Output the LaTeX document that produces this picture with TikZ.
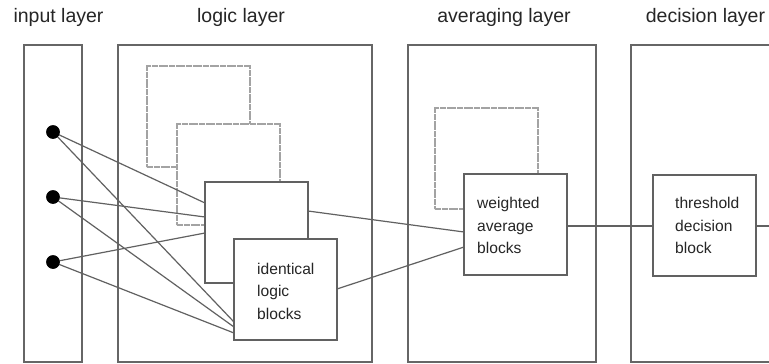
\documentclass[tikz,border=0pt]{standalone}
\usepackage{fontspec}
\setmainfont{Liberation Sans}
\usetikzlibrary{calc}
\begin{document}
\begin{tikzpicture}[x=1pt,y=-1pt,
  layerbox/.style={draw=black!60,line width=1.5pt,fill=white,inner sep=0pt,outer sep=0pt,
    anchor=north west,minimum height=317pt},
  blockbox/.style={draw=black!62,line width=1.4pt,fill=white,inner sep=0pt,outer sep=0pt,
    anchor=north west,minimum width=103pt,minimum height=101pt},
  ghostbox/.style={blockbox,draw=black!36,line width=1.6pt,dash pattern=on 3pt off 0.4pt},
  dotnode/.style={circle,fill=black,inner sep=0pt,outer sep=0pt,minimum size=13.5pt},
  link/.style={draw=black!62,line width=1.2pt},
  title/.style={anchor=base,inner sep=0pt,text=black!85,font=\fontsize{19.5}{22}\selectfont},
  blocktext/.style={anchor=base west,inner sep=0pt,text=black!85,font=\fontsize{15.6}{20}\selectfont}
]
\clip (0,0) rectangle (769,364);
\fill[white] (0,0) rectangle (769,364);

% layer titles
\node[title] (tin)  at (58.5,22.5) {input layer};
\node[title] (tlog) at (241,22.5)  {logic layer};
\node[title] (tavg) at (504,22.5)  {averaging layer};
\node[title] (tdec) at (705.5,22.5) {decision layer};

% layer frames
\node[layerbox,minimum width=58pt]  (inputL) at (24,45)  {};
\node[layerbox,minimum width=254pt] (logicL) at (118,45) {};
\node[layerbox,minimum width=188pt] (avgL)   at (408,45) {};
\node[layerbox,minimum width=180pt] (decL)   at (631,45) {};

% stacked logic blocks, back to front
\node[ghostbox] (lb1) at (147,66)  {};
\node[ghostbox] (lb2) at (177,124) {};
\node[blockbox] (lb3) at (205,182) {};
\node[blockbox] (lb4) at (234,239) {};

% averaging blocks
\node[ghostbox] (ab1) at (435,108) {};
\node[blockbox] (ab2) at (464,174) {};

% decision block
\node[blockbox] (db) at (653,175) {};

% block captions
\node[blocktext] (c1a) at (257,274) {identical};
\node[blocktext] (c1b) at (257,296.5) {logic};
\node[blocktext] (c1c) at (257,319) {blocks};
\node[blocktext] (c2a) at (477,208.5) {weighted};
\node[blocktext] (c2b) at (477,231) {average};
\node[blocktext] (c2c) at (477,253.5) {blocks};
\node[blocktext] (c3a) at (675,208.5) {threshold};
\node[blocktext] (c3b) at (675,231) {decision};
\node[blocktext] (c3c) at (675,253.5) {block};

% input nodes
\node[dotnode] (d1) at (53,132) {};
\node[dotnode] (d2) at (53,197) {};
\node[dotnode] (d3) at (53,262) {};
\coordinate (exit) at (769,226);

% connections from the inputs
\draw[link] (d1.center) -- ([yshift=-21pt]lb3.north west);
\draw[link] (d1.center) -- ([yshift=-83pt]lb4.north west);
\draw[link] (d2.center) -- ([yshift=-35pt]lb3.north west);
\draw[link] (d2.center) -- ([yshift=-88pt]lb4.north west);
\draw[link] (d3.center) -- ([yshift=-51pt]lb3.north west);
\draw[link] (d3.center) -- ([yshift=-94pt]lb4.north west);

% logic to averaging, averaging to decision
\draw[link] ([yshift=-29pt]lb3.north east) -- ([yshift=-58pt]ab2.north west);
\draw[link] ([yshift=-50pt]lb4.north east) -- ([yshift=-73pt]ab2.north west);
\draw[link] ([yshift=-52pt]ab2.north east) -- ([yshift=-51pt]db.north west);
\draw[link] ([yshift=-51pt]db.north east) -- (exit);

% input dots drawn above the link ends
\fill[black] (d1) circle[radius=6.75pt];
\fill[black] (d2) circle[radius=6.75pt];
\fill[black] (d3) circle[radius=6.75pt];
\end{tikzpicture}
\end{document}
